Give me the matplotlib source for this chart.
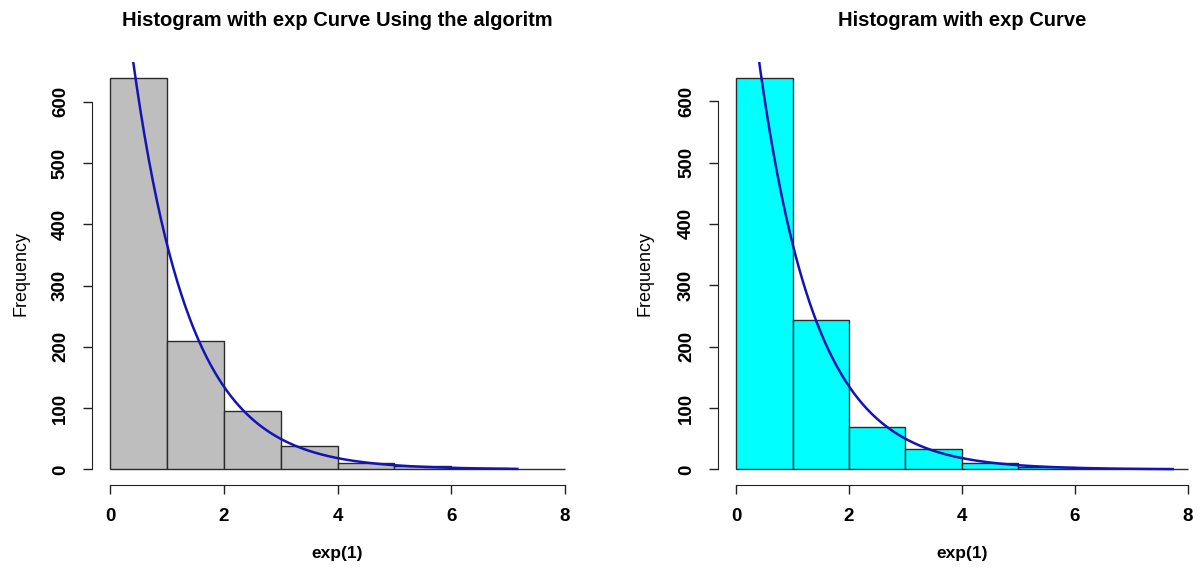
import numpy as np
import matplotlib
matplotlib.use("Agg")
import matplotlib.pyplot as plt

plt.rcParams['font.family'] = ['Liberation Sans', 'DejaVu Sans']

# histogram data (1000 draws from exp(1))
breaks = [0, 1, 2, 3, 4, 5, 6, 7, 8]
counts_algo = [639, 210, 95, 38, 10, 5, 2, 1]
counts_rexp = [638, 244, 69, 33, 10, 4, 1, 1]
n_draws = 1000
rate = 1.0
max_algo = 7.16
max_rexp = 7.73
titles = ["Histogram with exp Curve Using the algoritm", "Histogram with exp Curve"]
colors = ["#bebebe", "#00ffff"]
xticks = [0, 2, 4, 6, 8]
yticks = [0, 100, 200, 300, 400, 500, 600]

fig = plt.figure(figsize=(12, 5.76), dpi=100)
ax1 = fig.add_axes([0.0765, 0.158, 0.4096, 0.734])
ax2 = fig.add_axes([0.5983, 0.158, 0.4067, 0.734])


def r_hist(ax, counts, xmax, title, color):
    ax.bar(breaks[:-1], counts, width=1, align='edge', color=color,
           edgecolor='#2b2b2b', linewidth=1.0)
    xs = np.linspace(0, xmax, 400)
    ax.plot(xs, n_draws * rate * np.exp(-rate * xs), color='#1414b4', lw=1.8)
    top = max(counts)
    ax.set_xlim(-0.04 * 8, 8 * 1.04)
    ax.set_ylim(-0.04 * top, top * 1.04)
    for s in ['top', 'right']:
        ax.spines[s].set_visible(False)
    ax.spines['left'].set_bounds(0, 600)
    ax.spines['bottom'].set_bounds(0, 8)
    ax.spines['left'].set_color('#222222')
    ax.spines['bottom'].set_color('#222222')
    ax.set_xticks(xticks)
    ax.set_yticks(yticks)
    ax.tick_params(length=6.5, width=1, color='#222222', pad=10, labelsize=13.5)
    for lab in ax.get_xticklabels():
        lab.set_fontweight('bold')
    for lab in ax.get_yticklabels():
        lab.set_rotation(90)
        lab.set_va('center')
        lab.set_fontweight('bold')
    ax.set_xlabel("exp(1)", fontsize=12.5, fontweight='bold')
    ax.xaxis.label.set_va('center')
    ax.xaxis.set_label_coords(0.5, -0.161)
    ax.set_ylabel("Frequency", fontsize=13)
    ax.yaxis.label.set_va('center')
    ax.set_title(title, fontsize=14.5, fontweight='bold', pad=0,
                 y=1.0 + (62 - 20) / 423, va='center')


r_hist(ax1, counts_algo, max_algo, titles[0], colors[0])
r_hist(ax2, counts_rexp, max_rexp, titles[1], colors[1])
ax1.yaxis.set_label_coords(-0.144, 0.5)
ax2.yaxis.set_label_coords(-0.150, 0.5)

fig.savefig("out.png", dpi=100)
